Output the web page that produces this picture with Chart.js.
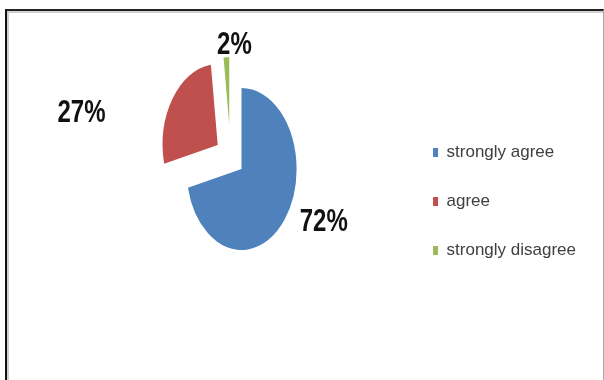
<!DOCTYPE html>
<html>
<head>
<meta charset="utf-8">
<script src="https://cdn.jsdelivr.net/npm/chart.js@4.4.0/dist/chart.umd.min.js"></script>
<style>
  html, body { margin: 0; padding: 0; background: #fff; }
  body { width: 604px; height: 380px; position: relative; overflow: hidden; }
  .frame {
    position: absolute; left: 5px; top: 9px; width: 596px; height: 400px;
    border-left: 2px solid #111; border-top: 2px solid #222; border-right: 1px solid #aaa;
    box-shadow: inset 2px 2px 0 #d0d0d0;
  }
  .wrap { position: absolute; left: 0; top: 0; width: 604px; height: 380px; }
</style>
</head>
<body>
<div class="frame"></div>
<div class="wrap"><canvas id="pie"></canvas></div>
<script>
const categories = ["strongly agree", "agree", "strongly disagree"];
const percents = [72, 27, 2];
const colors = ["#4f81bd", "#c0504d", "#9bbb59"];

// the original picture is squeezed sideways, so the pie is an ellipse
const squish = {
  id: "squish",
  beforeDatasetsDraw(chart, args, opts) {
    const ca = chart.chartArea;
    const cx = (ca.left + ca.right) / 2;
    const ctx = chart.ctx;
    ctx.save();
    ctx.translate(cx, 0);
    ctx.scale(opts.sx, 1);
    ctx.translate(-cx, 0);
  },
  afterDatasetsDraw(chart) {
    chart.ctx.restore();
  }
};

// pull slices out of the pie (chart.js "offset" eats thin slices, so move them here)
const explode = {
  id: "explode",
  afterDatasetsUpdate(chart, args, opts) {
    chart.getDatasetMeta(0).data.forEach((a, i) => {
      const s = opts.shift[i] || [0, 0];
      a.x += s[0];
      a.y += s[1];
      a.outerRadius -= opts.trim[i] || 0;
    });
  }
};

const pctLabels = {
  id: "pctLabels",
  afterDraw(chart, args, opts) {
    const ctx = chart.ctx;
    const sx = chart.options.plugins.squish.sx;
    const ca = chart.chartArea;
    const cx = (ca.left + ca.right) / 2;
    const meta = chart.getDatasetMeta(0);
    ctx.save();
    ctx.font = opts.font;
    ctx.fillStyle = opts.color;
    ctx.textAlign = "center";
    ctx.textBaseline = "middle";
    meta.data.forEach((a, i) => {
      const mid = (a.startAngle + a.endAngle) / 2;
      const x = cx + (a.x + Math.cos(mid) * a.outerRadius - cx) * sx + opts.nudge[i][0];
      const y = a.y + Math.sin(mid) * a.outerRadius + opts.nudge[i][1];
      ctx.save();
      ctx.translate(x, y);
      ctx.scale(opts.narrow, 1);
      ctx.fillText(percents[i] + "%", 0, 0);
      ctx.restore();
    });
    ctx.restore();
  }
};

new Chart(document.getElementById("pie"), {
  type: "pie",
  data: {
    labels: categories,
    datasets: [{
      data: percents,
      backgroundColor: colors,
      borderWidth: 0
    }]
  },
  options: {
    responsive: true,
    maintainAspectRatio: false,
    animation: false,
    events: [],
    radius: 81,
    layout: { padding: { left: 82, right: 18, top: 47, bottom: 89 } },
    plugins: {
      legend: {
        position: "right",
        align: "end",
        labels: {
          boxWidth: 5,
          boxHeight: 9,
          padding: 32,
          color: "#404040",
          font: { family: "'Liberation Sans', Arial, sans-serif", size: 17 }
        }
      },
      tooltip: { enabled: false },
      squish: { sx: 0.68 },
      explode: {
        shift: [[0, 0], [-35, -24], [-18, -44]],
        trim: [0, 0, 13]
      },
      pctLabels: {
        font: "bold 32px 'Liberation Sans', Arial, sans-serif",
        color: "#111",
        narrow: 0.75,
        nudge: [[39, 3], [-91, 14], [8, -12]]
      }
    }
  },
  plugins: [explode, squish, pctLabels]
});
</script>
</body>
</html>
